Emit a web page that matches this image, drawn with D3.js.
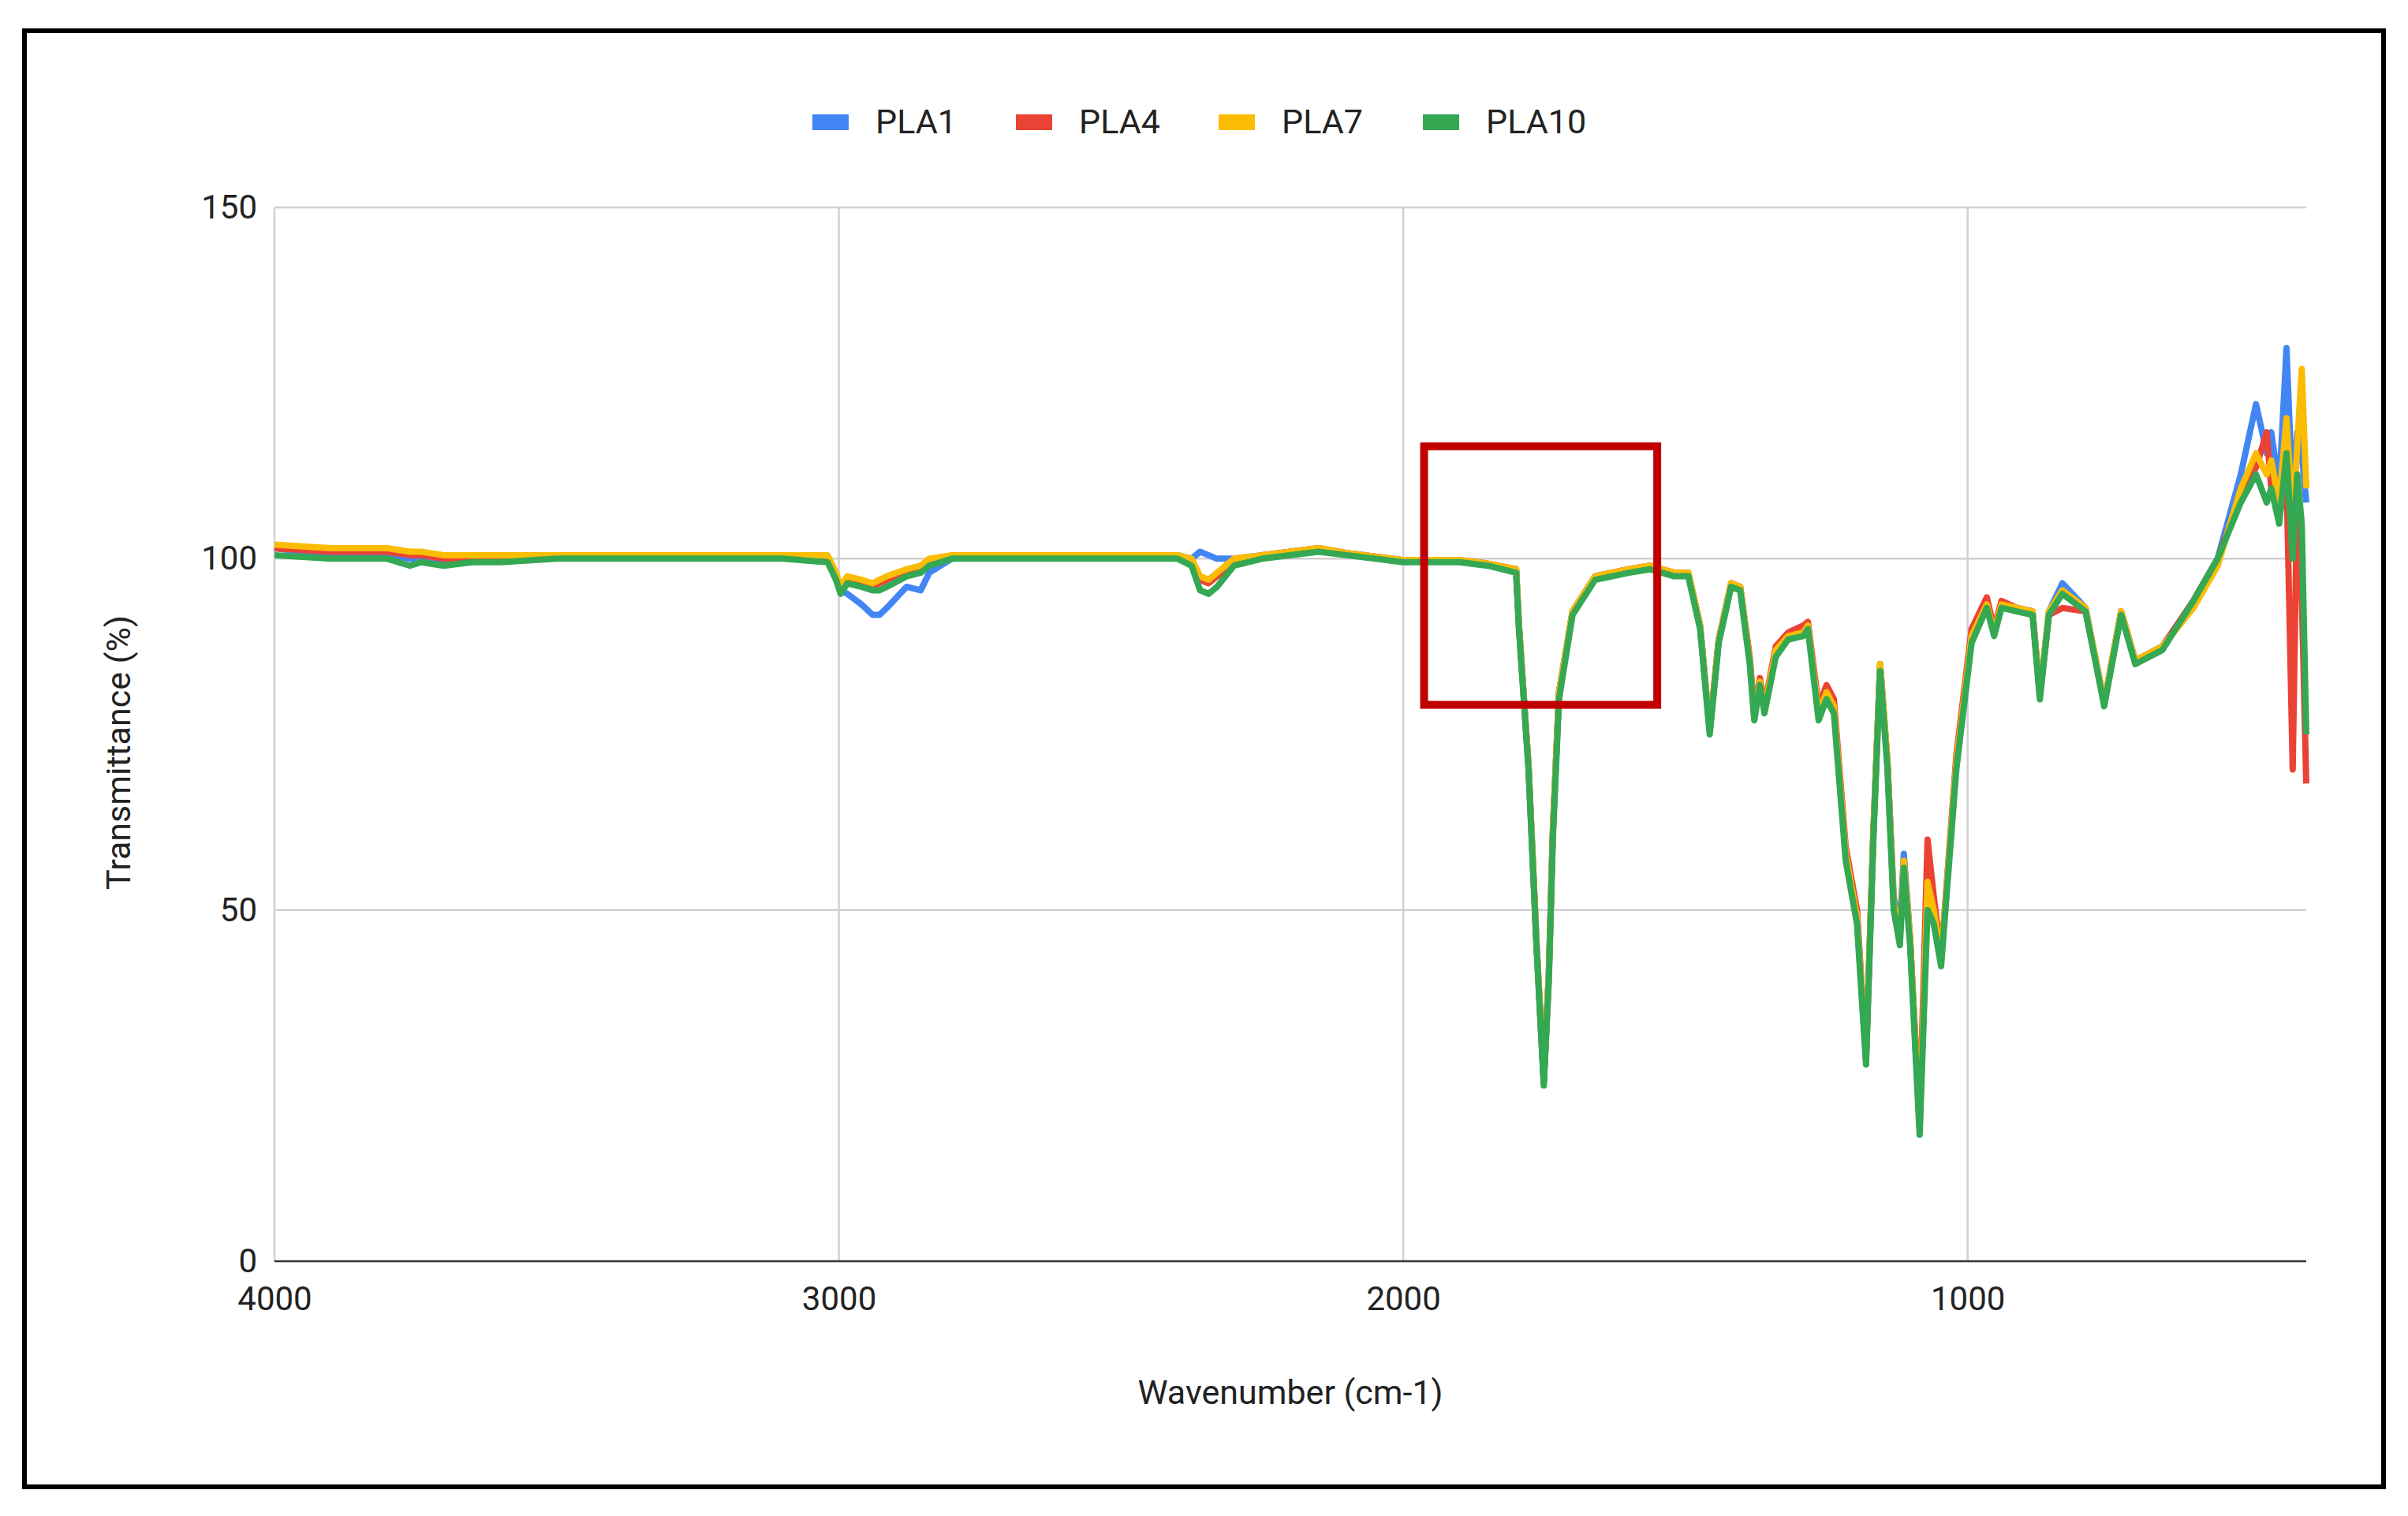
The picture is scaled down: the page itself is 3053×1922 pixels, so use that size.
<!DOCTYPE html>
<html><head><meta charset="utf-8">
<script src="https://cdn.jsdelivr.net/npm/d3@7"></script>
<style>body{margin:0;background:#fff}</style></head>
<body><svg id="c" width="3053" height="1922"></svg>
<script>
const seriesNames = ["PLA1","PLA4","PLA7","PLA10"];
const seriesColors = ["#4285f4","#ea4335","#fbbc04","#34a853"];
const xTicks = [4000,3000,2000,1000];
const yTicks = [0,50,100,150];
const wavenumber = [4000,3900,3800,3760,3740,3700,3650,3600,3500,3400,3300,3200,3100,3020,3005,2997,2985,2960,2940,2928,2915,2880,2855,2840,2800,2700,2600,2500,2400,2375,2360,2345,2330,2300,2250,2150,2100,2000,1900,1850,1800,1795,1778,1764,1751,1742,1735,1724,1700,1660,1600,1563,1520,1495,1474,1457,1441,1419,1403,1386,1378,1368,1360,1340,1318,1291,1283,1264,1250,1237,1216,1196,1180,1167,1155,1142,1131,1120,1113,1102,1085,1071,1060,1047,1020,993,966,953,940,913,885,872,856,832,791,758,728,703,655,600,557,516,489,470,462,448,435,424,416,408,400];
const pla1 = [101.5,100.5,100.5,100,100,99.5,100,100,100.5,100.5,100.5,100.5,100.5,100,97,95.5,95,93.5,92,92,93,96,95.5,98,100,100.5,100.5,100.5,100.5,100,101,100.5,100,100,100.5,101.5,100.8,99.8,99.8,99.3,98.5,90.5,70.5,45.5,25.5,41,61,81,92.5,97.5,98.5,99,98,98,90.5,75.5,88.5,96.5,96,85.5,77.5,82.5,78.5,87,89,89.5,90.5,78,81,79,58,49,29,61,85,71,52,47,58,46,19,53,49,43,71,89,93.5,89.5,93.5,93,92.5,80.5,92.5,96.5,93,79.5,92.5,85.5,87.5,94,100,112,122,115,118,110,130,108,118,115,108];
const pla4 = [101.5,101,101,100.5,100.5,100,100,100,100.5,100.5,100.5,100.5,100.5,100,97.5,95.5,97,96.5,96,96.5,97,98,98.5,99.5,100,100.5,100.5,100.5,100.5,99.5,97,96.5,97.5,99.5,100.5,101.5,100.8,99.8,99.8,99.3,98.5,90.5,70.5,45.5,25.5,41,61,81,92.5,97.5,98.5,99,98,98,90.5,75.5,88.5,96.5,96,86,78,83,79,87.5,89.5,90.5,91,79,82,80,59,50,29,61,85,71,51,46,57,46,20,60,52,43,72,90,94.5,90,94,93,92.5,80.5,92,93,92.5,79.5,92.5,85.5,87.5,94,100,109,113,118,110,106,112,70,110,95,68];
const pla7 = [102,101.5,101.5,101,101,100.5,100.5,100.5,100.5,100.5,100.5,100.5,100.5,100.5,98,96,97.5,97,96.5,97,97.5,98.5,99,100,100.5,100.5,100.5,100.5,100.5,100,97.5,97,98,100,100.5,101.5,100.8,99.8,99.8,99.3,98.5,90.5,70.5,45.5,26,41,61,81,92.5,97.5,98.5,99,98,98,90.5,75.5,88.5,96.5,96,85.5,77.5,82.5,78.5,87,89,89.5,90.5,78,81,79,58,49,29,61,85,71,51,46,57,46,19,54,50,43,71,89,93.5,89.5,93.5,93,92.5,80.5,92.5,95.5,93,79.5,92.5,85.5,87.5,93,99,110,115,112,114,108,120,105,116,127,110];
const pla10 = [100.5,100,100,99,99.5,99,99.5,99.5,100,100,100,100,100,99.5,97,95,96.5,96,95.5,95.5,96,97.5,98,99,100,100,100,100,100,99,95.5,95,96,99,100,101,100.5,99.5,99.5,99,98,90,70,45,25,40,60,80,92,97,98,98.5,97.5,97.5,90,75,88,96,95.5,85,77,82,78,86,88.5,89,90,77,80,78,57,48,28,60,84,70,50,45,56,45,18,50,48,42,70,88,93,89,93,92.5,92,80,92,95,92.5,79,92,85,87,94,100,108,112,108,110,105,115,100,112,105,75];
const allSeries = [pla1,pla4,pla7,pla10];
const highlight = {x0:1963, x1:1550, y0:116, y1:79.2};

const svg = d3.select("#c");
const L=348,R=2924,T=263,B=1599;
const x = d3.scaleLinear().domain([4000,400]).range([L,R]);
const y = d3.scaleLinear().domain([0,150]).range([B,T]);
const font = "Roboto, Arial, sans-serif";

svg.append("rect").attr("x",31).attr("y",39).attr("width",2991).attr("height",1846)
  .attr("fill","none").attr("stroke","#000").attr("stroke-width",6);

const g = svg.append("g");
yTicks.filter(v=>v>0).forEach(v=>g.append("line").attr("x1",L).attr("x2",R).attr("y1",y(v)).attr("y2",y(v)).attr("stroke","#d0d0d0").attr("stroke-width",2.5));
xTicks.forEach(v=>g.append("line").attr("x1",x(v)).attr("x2",x(v)).attr("y1",T).attr("y2",B).attr("stroke","#d0d0d0").attr("stroke-width",2.5));
g.append("line").attr("x1",L).attr("x2",R).attr("y1",B).attr("y2",B).attr("stroke","#333").attr("stroke-width",2.5);

const xa = svg.append("g").attr("transform",`translate(0,${B})`).call(d3.axisBottom(x).tickValues(xTicks).tickFormat(d3.format("d")).tickSize(0).tickPadding(32));
xa.select(".domain").remove();
xa.selectAll("text").attr("font-family",font).attr("font-size",42).attr("fill","#222");
const ya = svg.append("g").attr("transform",`translate(${L},0)`).call(d3.axisLeft(y).tickValues(yTicks).tickSize(0).tickPadding(22));
ya.select(".domain").remove();
ya.selectAll("text").attr("font-family",font).attr("font-size",42).attr("fill","#222");

const line = d3.line().x((d,i)=>x(wavenumber[i])).y(d=>y(d));
allSeries.forEach((s,k)=>{
  svg.append("path").attr("d",line(s)).attr("fill","none").attr("stroke",seriesColors[k])
    .attr("stroke-width",8).attr("stroke-linejoin","round");
});

svg.append("rect").attr("x",x(highlight.x0)).attr("y",y(highlight.y0))
  .attr("width",x(highlight.x1)-x(highlight.x0)).attr("height",y(highlight.y1)-y(highlight.y0))
  .attr("fill","none").attr("stroke","#c00000").attr("stroke-width",10);

const legX=[1030,1288,1545,1804];
seriesNames.forEach((n,k)=>{
  svg.append("rect").attr("x",legX[k]).attr("y",145).attr("width",46).attr("height",20).attr("fill",seriesColors[k]);
  svg.append("text").attr("x",legX[k]+80).attr("y",169).text(n).attr("font-family",font).attr("font-size",43).attr("fill","#222");
});

svg.append("text").attr("x",1636).attr("y",1780).attr("text-anchor","middle").text("Wavenumber (cm-1)")
  .attr("font-family",font).attr("font-size",43).attr("fill","#222");
svg.append("text").attr("transform","translate(165,954) rotate(-90)").attr("text-anchor","middle").text("Transmittance (%)")
  .attr("font-family",font).attr("font-size",43).attr("fill","#222");
</script></body></html>
